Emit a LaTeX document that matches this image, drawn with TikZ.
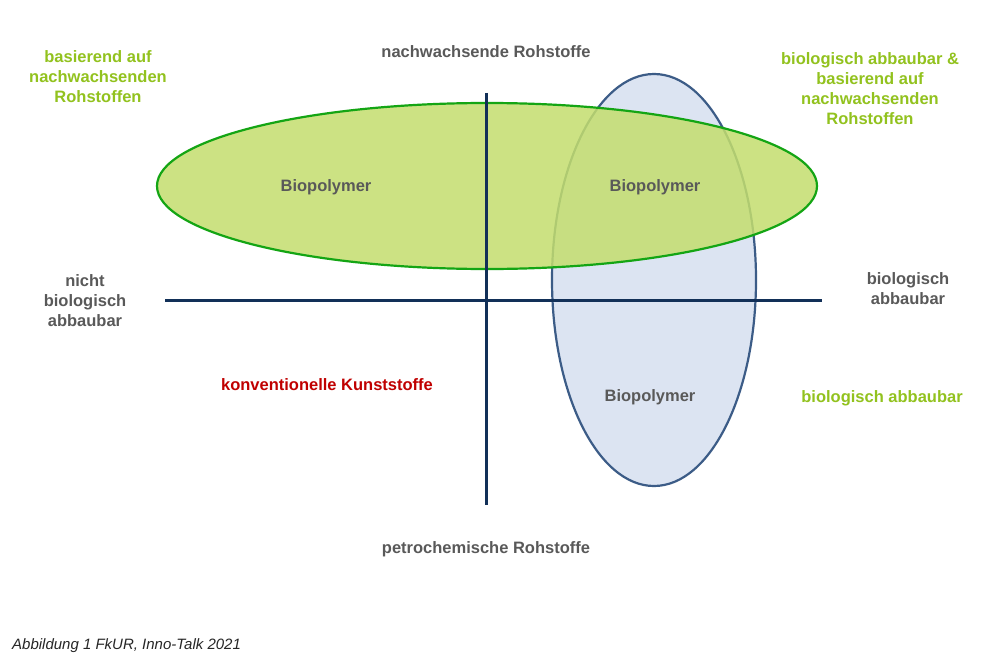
\documentclass[tikz,border=0pt]{standalone}
\usepackage{fontspec}
\setmainfont{Liberation Sans}
\begin{document}
\begin{tikzpicture}[x=1pt,y=-1pt,
  lbl/.style={font=\fontsize{16.5}{20}\selectfont\bfseries, text=gray35, align=center, inner sep=0},
  glbl/.style={lbl, text=lgreen},
  axis/.style={draw=navy, line width=3pt}]
\definecolor{gray35}{RGB}{89,89,89}
\definecolor{lgreen}{RGB}{146,194,30}
\definecolor{navy}{RGB}{18,48,88}
\definecolor{gfill}{RGB}{196,222,110}
\definecolor{gline}{RGB}{20,165,20}
\definecolor{bfill}{RGB}{220,228,242}
\definecolor{bline}{RGB}{60,92,135}
\definecolor{kred}{RGB}{192,0,0}
\useasboundingbox (0,0) rectangle (1000,666);
\path[fill=white] (0,0) rectangle (1000,666);
\draw[fill=bfill, draw=bline, line width=2.2pt] (654,280) ellipse [x radius=102, y radius=206];
\draw[fill=gfill, fill opacity=0.85, draw=gline, line width=2.2pt] (487,186) ellipse [x radius=330, y radius=83];
\coordinate (vt) at (486,93); \coordinate (vb) at (486,505);
\coordinate (hl) at (165,300); \coordinate (hr) at (822,300);
\draw[axis] (vt) -- (vb);
\draw[axis] (hl) -- (hr);
\node[lbl] (b1) at (326,187) {Biopolymer};
\node[lbl] (b2) at (655,187) {Biopolymer};
\node[lbl] (b3) at (650,397) {Biopolymer};
\node[lbl] (top) at (486,52) {nachwachsende Rohstoffe};
\node[lbl] (bot) at (486,549) {petrochemische Rohstoffe};
\node[lbl] (left) at (85,301) {nicht\\biologisch\\abbaubar};
\node[lbl] (right) at (908,289) {biologisch\\abbaubar};
\node[glbl] (tl) at (98,77) {basierend auf\\nachwachsenden\\Rohstoffen};
\node[glbl] (tr) at (870,89) {biologisch abbaubar \&\\basierend auf\\nachwachsenden\\Rohstoffen};
\node[glbl] (br) at (882,398) {biologisch abbaubar};
\node[lbl, text=kred] (konv) at (327,385) {konventionelle Kunststoffe};
\node[anchor=west, font=\fontsize{15}{18}\selectfont\itshape, text=black!85, inner sep=0] (cap) at (12,646) {Abbildung 1 FkUR, Inno-Talk 2021};
\end{tikzpicture}
\end{document}
